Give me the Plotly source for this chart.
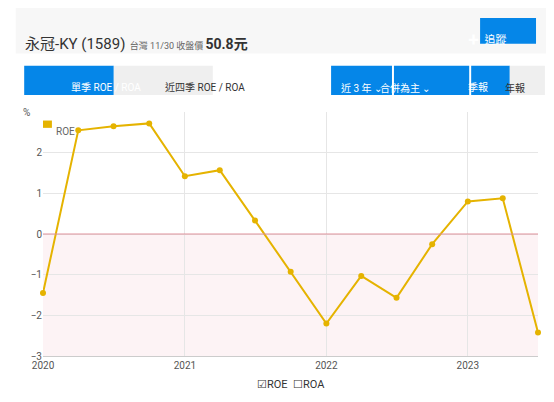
import plotly.graph_objects as go

dates = ["2020-01-01", "2020-04-01", "2020-07-01", "2020-10-01",
         "2021-01-01", "2021-04-01", "2021-07-01", "2021-10-01",
         "2022-01-01", "2022-04-01", "2022-07-01", "2022-10-01",
         "2023-01-01", "2023-04-01", "2023-07-01"]
roe = [-1.45, 2.55, 2.65, 2.72, 1.42, 1.57, 0.33, -0.93,
       -2.2, -1.03, -1.57, -0.25, 0.8, 0.88, -2.42]

FONT = "Roboto, Noto Sans CJK TC, sans-serif"
BLUE = "#0586e8"
GOLD = "#e5b300"

fig = go.Figure()
fig.add_trace(go.Scatter(x=dates, y=roe, mode="lines+markers", name="ROE", cliponaxis=False,
                         line=dict(color=GOLD, width=2), marker=dict(size=6, color=GOLD)))

fig.update_layout(
    width=554, height=402, paper_bgcolor="white", plot_bgcolor="white",
    margin=dict(l=35, r=24, t=104, b=54, autoexpand=False), showlegend=False,
    font=dict(family=FONT, size=10, color="#555"),
    xaxis=dict(range=["2020-01-01", "2023-07-01"], tickvals=["2020-01-01", "2021-01-01", "2022-01-01", "2023-01-01"],
               ticktext=["2020", "2021", "2022", "2023"], showgrid=True, gridcolor="#e6e6e6",
               showline=True, linecolor="#ccc", zeroline=False, automargin=False),
    yaxis=dict(range=[-3, 3], showgrid=True, gridcolor="#e6e6e6", zeroline=False,
               tickvals=[-3, -2, -1, 0, 1, 2], automargin=False),
)

shapes = [
    # negative region and zero line
    dict(type="rect", xref="paper", yref="y", x0=0, x1=1, y0=-3, y1=0,
         fillcolor="#fdf3f5", line_width=0, layer="below"),
    dict(type="line", xref="paper", yref="y", x0=0, x1=1, y0=0, y1=0,
         line=dict(color="#e0909a", width=1)),
    # header
    dict(type="rect", xref="paper", yref="paper", x0=-0.055, x1=1.05, y0=1.24, y1=1.43,
         fillcolor="#f7f7f7", line_width=0),
    dict(type="rect", xref="paper", yref="paper", x0=0.883, x1=0.996, y0=1.28, y1=1.385,
         fillcolor=BLUE, line_width=0),
    dict(type="rect", xref="paper", yref="paper", x0=0.0, x1=0.018, y0=0.935, y1=0.965,
         fillcolor=GOLD, line_width=0),
]
btns = [(-0.038, 0.143, BLUE, "單季 ROE / ROA", "white"),
        (0.143, 0.343, "#efefef", "近四季 ROE / ROA", "#333"),
        (0.582, 0.705, BLUE, "近 3 年 ⌄", "white"),
        (0.709, 0.861, BLUE, "合併為主 ⌄", "white"),
        (0.865, 0.943, BLUE, "季報", "white"),
        (0.943, 1.014, "#efefef", "年報", "#333")]
anns = []
for x0, x1, fill, txt, col in btns:
    shapes.append(dict(type="rect", xref="paper", yref="paper", x0=x0, x1=x1, y0=1.07, y1=1.19,
                       fillcolor=fill, line_width=0))
    anns.append(dict(xref="paper", yref="paper", x=(x0 + x1) / 2, y=1.13, text=txt, showarrow=False,
                     font=dict(size=10, color=col)))
fig.update_layout(shapes=shapes)

anns += [
    dict(xref="paper", yref="paper", x=-0.04, y=1.325, xanchor="left", showarrow=False,
         text="<span style='font-size:15px;color:#333'>永冠-KY (1589)</span>  台灣 11/30 收盤價 <span style='font-size:14px;color:#333'><b>50.8元</b></span>",
         font=dict(size=9, color="#666")),
    dict(xref="paper", yref="paper", x=0.94, y=1.33, text="<b>✚</b>  追蹤", showarrow=False,
         font=dict(size=11, color="white")),
    dict(xref="paper", yref="paper", x=-0.045, y=1.03, text="%", showarrow=False, font=dict(size=10, color="#555")),
    dict(xref="paper", yref="paper", x=0.022, y=0.95, xanchor="left", text="ROE", showarrow=False,
         font=dict(size=10, color="#666")),
    dict(xref="paper", yref="paper", x=0.5, y=-0.15, text="☑ROE  ☐ROA", showarrow=False,
         font=dict(size=11, color="#333")),
]
fig.update_layout(annotations=anns)

fig.write_html("out.html")
